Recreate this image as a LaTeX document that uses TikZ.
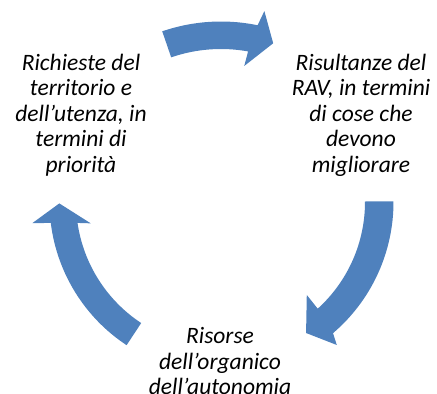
\documentclass[tikz,border=0pt]{standalone}
\usepackage{fontspec}
\setmainfont{Carlito}
\definecolor{arrowblue}{HTML}{4F81BD}
\tikzset{
  cyclearrow/.style={fill=arrowblue, draw=none},
  labeltext/.style={font=\fontsize{23.5}{25.5}\selectfont\itshape, align=center, inner sep=0pt, text=black}
}
\begin{document}
\begin{tikzpicture}[x=1pt,y=1pt]
\useasboundingbox (0,0) rectangle (437,-394);
% circular arrows around centre
\begin{scope}[shift={(221,-202)}]
  % top arrow
  \fill[cyclearrow] (109:180.5) arc[start angle=109, end angle=78.3, radius=180.5]
    -- (77.2:195.8) -- (71.8:167.1) -- (80.3:138) -- (79.8:153)
    arc[start angle=79.8, end angle=109, radius=153] -- cycle;
  % right arrow
  \fill[cyclearrow] (0.2:172.5) arc[start angle=0.2, end angle=-49.5, radius=172.5]
    -- (-51:184) -- (-57:156.2) -- (-47.3:126.5) -- (-47.8:144)
    arc[start angle=-47.8, end angle=0.2, radius=144] -- cycle;
  % left arrow
  \fill[cyclearrow] (-123.4:171.5) arc[start angle=-123.4, end angle=-173, radius=171.5]
    -- (-173.6:189.9) -- (-179.5:161.7) -- (-170.7:132) -- (-171.7:145)
    arc[start angle=-171.7, end angle=-123.4, radius=145] -- cycle;
\end{scope}
\node[labeltext] (richieste) at (81,-115) {Richieste del\\territorio e\\dell’utenza, in\\termini di\\priorità};
\node[labeltext] (risultanze) at (361,-115) {Risultanze del\\RAV, in termini\\di cose che\\devono\\migliorare};
\node[labeltext] (risorse) at (220,-361) {Risorse\\dell’organico\\dell’autonomia};
\end{tikzpicture}
\end{document}
